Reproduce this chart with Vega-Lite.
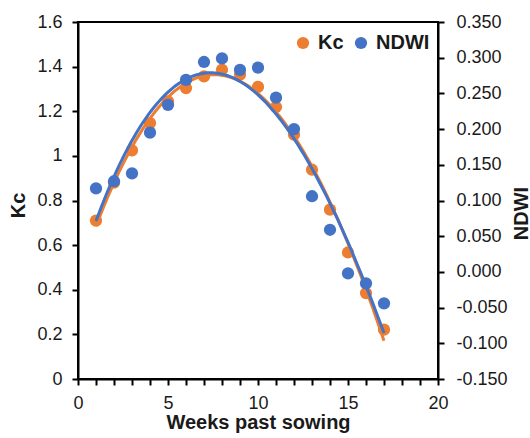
{
  "$schema": "https://vega.github.io/schema/vega-lite/v6.json",
  "width": 360,
  "height": 357,
  "autosize": {"type": "none"},
  "padding": {"left": 78, "top": 22, "right": 92, "bottom": 59},
  "background": "white",
  "config": {
    "font": "Liberation Sans",
    "view": {"stroke": "#000000", "strokeWidth": 2},
    "axis": {
      "grid": false,
      "domainColor": "#000000",
      "domainWidth": 2,
      "tickColor": "#000000",
      "tickWidth": 2,
      "tickSize": 6,
      "labelOverlap": false,
      "labelFont": "Liberation Sans",
      "labelFontSize": 18,
      "labelColor": "#1a1a1a",
      "titleFont": "Liberation Sans",
      "titleFontSize": 20,
      "titleFontWeight": "bold",
      "titleColor": "#1a1a1a"
    },
    "legend": {
      "orient": "none",
      "legendX": 215,
      "legendY": 11,
      "direction": "horizontal",
      "symbolType": "circle",
      "symbolSize": 150,
      "symbolStrokeWidth": 0,
      "labelFont": "Liberation Sans",
      "labelFontSize": 20,
      "labelFontWeight": "bold",
      "labelColor": "#1a1a1a",
      "labelOffset": 5,
      "columnPadding": 7,
      "padding": 0
    }
  },
  "data": {
    "values": [
      {"week": 1, "Kc": 0.71, "NDWI": 0.117},
      {"week": 2, "Kc": 0.88, "NDWI": 0.127},
      {"week": 3, "Kc": 1.025, "NDWI": 0.138},
      {"week": 4, "Kc": 1.147, "NDWI": 0.195},
      {"week": 5, "Kc": 1.244, "NDWI": 0.234},
      {"week": 6, "Kc": 1.304, "NDWI": 0.269},
      {"week": 7, "Kc": 1.356, "NDWI": 0.294},
      {"week": 8, "Kc": 1.386, "NDWI": 0.299},
      {"week": 9, "Kc": 1.364, "NDWI": 0.283},
      {"week": 10, "Kc": 1.309, "NDWI": 0.286},
      {"week": 11, "Kc": 1.219, "NDWI": 0.244},
      {"week": 12, "Kc": 1.095, "NDWI": 0.2},
      {"week": 13, "Kc": 0.938, "NDWI": 0.106},
      {"week": 14, "Kc": 0.759, "NDWI": 0.059},
      {"week": 15, "Kc": 0.567, "NDWI": -0.002},
      {"week": 16, "Kc": 0.385, "NDWI": -0.016},
      {"week": 17, "Kc": 0.221, "NDWI": -0.044}
    ]
  },
  "layer": [
    {
      "layer": [
        {
          "mark": {"type": "circle", "size": 150, "opacity": 1},
          "encoding": {
            "x": {"field": "week", "type": "quantitative", "title": "Weeks past sowing",
                  "scale": {"domain": [0, 20], "nice": false},
                  "axis": {"values": [0,1,2,3,4,5,6,7,8,9,10,11,12,13,14,15,16,17,18,19,20],
                           "tickCount": 21, "labelOverlap": false,
                           "labelExpr": "datum.value % 5 === 0 ? datum.label : ''",
                           "labelPadding": 9, "labelFlush": false,
                           "titleY": 49, "titleBaseline": "alphabetic"}},
            "y": {"field": "Kc", "type": "quantitative", "title": "Kc",
                  "scale": {"domain": [0, 1.6], "nice": false},
                  "axis": {"orient": "left", "values": [0,0.2,0.4,0.6,0.8,1,1.2,1.4,1.6],
                           "tickCount": 9, "labelOverlap": false,
                           "labelExpr": "format(datum.value, '.1~f')",
                           "labelPadding": 10, "labelFlush": false,
                           "titleX": -60, "titleY": 183, "titleAngle": 270,
                           "titleAlign": "center", "titleBaseline": "middle"}},
            "color": {"datum": "Kc", "type": "nominal",
                      "scale": {"domain": ["Kc", "NDWI"], "range": ["#ED7D31", "#4472C4"]},
                      "legend": {"title": null}}
          }
        },
        {
          "transform": [{"regression": "Kc", "on": "week", "method": "poly", "order": 3, "extent": [1, 17]}],
          "mark": {"type": "line", "strokeWidth": 3, "color": "#ED7D31"},
          "encoding": {
            "x": {"field": "week", "type": "quantitative"},
            "y": {"field": "Kc", "type": "quantitative"}
          }
        }
      ]
    },
    {
      "layer": [
        {
          "mark": {"type": "circle", "size": 150, "opacity": 1},
          "encoding": {
            "x": {"field": "week", "type": "quantitative"},
            "y": {"field": "NDWI", "type": "quantitative", "title": "NDWI",
                  "scale": {"domain": [-0.15, 0.35], "nice": false, "zero": false},
                  "axis": {"orient": "right", "values": [-0.15,-0.1,-0.05,0,0.05,0.1,0.15,0.2,0.25,0.3,0.35],
                           "tickCount": 11, "labelOverlap": false,
                           "labelExpr": "replace(format(datum.value, '.3f'), '\u2212', '-')",
                           "labelPadding": 12, "labelFlush": false,
                           "titleX": 83, "titleY": 191, "titleAngle": 270,
                           "titleAlign": "center", "titleBaseline": "middle"}},
            "color": {"datum": "NDWI", "type": "nominal"}
          }
        },
        {
          "transform": [{"regression": "NDWI", "on": "week", "method": "poly", "order": 3, "extent": [1, 17]}],
          "mark": {"type": "line", "strokeWidth": 3, "color": "#4472C4"},
          "encoding": {
            "x": {"field": "week", "type": "quantitative"},
            "y": {"field": "NDWI", "type": "quantitative"}
          }
        }
      ]
    }
  ],
  "resolve": {"scale": {"y": "independent"}}
}
